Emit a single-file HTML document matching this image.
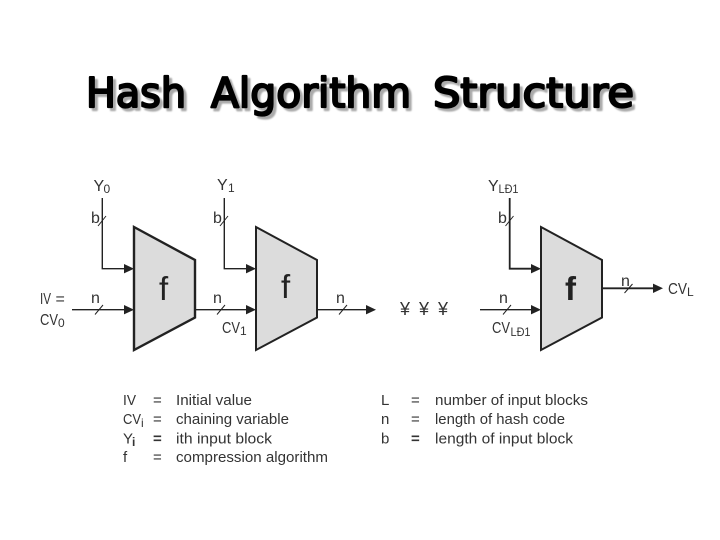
<!DOCTYPE html>
<html><head><meta charset="utf-8">
<style>
html,body{margin:0;padding:0;background:#fff;width:720px;height:540px;overflow:hidden}
svg{display:block}
text{font-family:"Liberation Sans",sans-serif;fill:#333}
.t{font-family:"DejaVu Sans",sans-serif;font-size:41px;stroke-width:2.2px;stroke-linejoin:round;stroke-linecap:round}
.l{font-size:15px}
.d{font-size:16px}
.s{font-size:12px}
.f{font-size:33px;fill:#222}
.y{font-size:18px}
</style></head>
<body>
<svg width="720" height="540" viewBox="0 0 720 540" xmlns="http://www.w3.org/2000/svg">
<defs><filter id="b" x="-5%" y="-20%" width="110%" height="140%"><feGaussianBlur stdDeviation="0.7"/></filter></defs>
<g filter="url(#b)">
<text class="t" x="89" y="110" textLength="100" lengthAdjust="spacingAndGlyphs" style="fill:#aaa;stroke:#aaa">Hash</text>
<text class="t" x="214" y="110" textLength="200" lengthAdjust="spacingAndGlyphs" style="fill:#aaa;stroke:#aaa">Algorithm</text>
<text class="t" x="436" y="110" textLength="201" lengthAdjust="spacingAndGlyphs" style="fill:#aaa;stroke:#aaa">Structure</text>
</g>
<text class="t" x="86" y="107" textLength="100" lengthAdjust="spacingAndGlyphs" style="fill:#000;stroke:#000">Hash</text>
<text class="t" x="211" y="107" textLength="200" lengthAdjust="spacingAndGlyphs" style="fill:#000;stroke:#000">Algorithm</text>
<text class="t" x="433" y="107" textLength="201" lengthAdjust="spacingAndGlyphs" style="fill:#000;stroke:#000">Structure</text>

<g fill="#dcdcdc" stroke="#222" stroke-width="2">
<polygon points="134,227 195,260 195,317.5 134,350" stroke-width="2.4"/>
<polygon points="256,227 317,260 317,317.5 256,350"/>
<polygon points="541,227 602,260 602,317.5 541,350"/>
</g>
<g fill="none" stroke="#222" stroke-width="1.4">
<path d="M102.3 198V268.7H125"/>
<path d="M224.3 198V268.7H247"/>
<path d="M509.7 198V268.7H532" stroke-width="1.8"/>
<path d="M72 309.7H125"/>
<path d="M195 309.7H247"/>
<path d="M317 309.7H367"/>
<path d="M480 309.7H532"/>
<path d="M602 288.3H653" stroke-width="1.8"/>
<g stroke-width="1">
<path d="M98 226L106 216M220 226L228 216M505.500 226L513.500 216"/>
<path d="M95 314.500L103 305M217 314.500L225 305M339 314.500L347 305M503 314.500L511 305M624.500 293L632.500 284"/>
</g>
</g>
<g fill="#222">
<polygon points="124,264 134,268.700 124,273.400"/>
<polygon points="246,264 256,268.700 246,273.400"/>
<polygon points="531,264 541,268.700 531,273.400"/>
<polygon points="124,305 134,309.700 124,314.400"/>
<polygon points="246,305 256,309.700 246,314.400"/>
<polygon points="366,305 376,309.700 366,314.400"/>
<polygon points="531,305 541,309.700 531,314.400"/>
<polygon points="653,283.600 663,288.300 653,293"/>
</g>

<text class="f" x="159" y="300">f</text>
<text class="f" x="281" y="298">f</text>
<text class="f" x="565" y="300" style="font-weight:bold">f</text>

<text class="d" x="93.500" y="191">Y</text><text class="s" x="103.500" y="193">0</text>
<text class="d" x="217" y="190">Y</text><text class="s" x="228" y="192">1</text>
<text class="d" x="488" y="191">Y</text><text class="s" x="498.500" y="193" textLength="20" lengthAdjust="spacingAndGlyphs">LÐ1</text>

<text class="d" x="91" y="223">b</text>
<text class="d" x="213" y="223">b</text>
<text class="d" x="498" y="223">b</text>

<text class="d" x="91" y="303">n</text>
<text class="d" x="213" y="303">n</text>
<text class="d" x="336" y="303">n</text>
<text class="d" x="499" y="303">n</text>
<text class="d" x="621" y="286">n</text>

<text class="d" x="40" y="304" textLength="11" lengthAdjust="spacingAndGlyphs">IV</text><text class="d" x="55.500" y="304">=</text>
<text class="d" x="40" y="325" textLength="18" lengthAdjust="spacingAndGlyphs">CV</text><text class="s" x="58" y="327">0</text>
<text class="d" x="222" y="333" textLength="18" lengthAdjust="spacingAndGlyphs">CV</text><text class="s" x="240" y="335">1</text>
<text class="d" x="492" y="333" textLength="18" lengthAdjust="spacingAndGlyphs">CV</text><text class="s" x="510.500" y="336" textLength="20" lengthAdjust="spacingAndGlyphs">LÐ1</text>
<text class="d" x="668" y="294" textLength="19" lengthAdjust="spacingAndGlyphs">CV</text><text class="s" x="687" y="296">L</text>

<text class="y" x="400" y="315">¥</text>
<text class="y" x="419" y="315">¥</text>
<text class="y" x="438" y="315">¥</text>

<text class="l" x="123" y="405" textLength="13" lengthAdjust="spacingAndGlyphs">IV</text>
<text class="l" x="123" y="424" textLength="18" lengthAdjust="spacingAndGlyphs">CV</text><text class="s" x="141" y="427">i</text>
<text class="l" x="123" y="443.500">Y</text><text class="s" x="132" y="446" style="font-weight:bold">i</text>
<text class="l" x="123" y="462">f</text>

<text class="l" x="153" y="405">=</text>
<text class="l" x="153" y="424">=</text>
<text class="l" x="153" y="443.500" style="font-weight:bold">=</text>
<text class="l" x="153" y="462">=</text>

<text class="l" x="176" y="405" textLength="76" lengthAdjust="spacingAndGlyphs">Initial value</text>
<text class="l" x="176" y="424" textLength="113" lengthAdjust="spacingAndGlyphs">chaining variable</text>
<text class="l" x="176" y="443.500" textLength="96" lengthAdjust="spacingAndGlyphs">ith input block</text>
<text class="l" x="176" y="462" textLength="152" lengthAdjust="spacingAndGlyphs">compression algorithm</text>

<text class="l" x="381" y="405">L</text>
<text class="l" x="381" y="424">n</text>
<text class="l" x="381" y="443.500">b</text>

<text class="l" x="411" y="405">=</text>
<text class="l" x="411" y="424">=</text>
<text class="l" x="411" y="443.500" style="font-weight:bold">=</text>

<text class="l" x="435" y="405" textLength="153" lengthAdjust="spacingAndGlyphs">number of input blocks</text>
<text class="l" x="435" y="424" textLength="130" lengthAdjust="spacingAndGlyphs">length of hash code</text>
<text class="l" x="435" y="443.500" textLength="138" lengthAdjust="spacingAndGlyphs">length of input block</text>
</svg>
</body></html>
